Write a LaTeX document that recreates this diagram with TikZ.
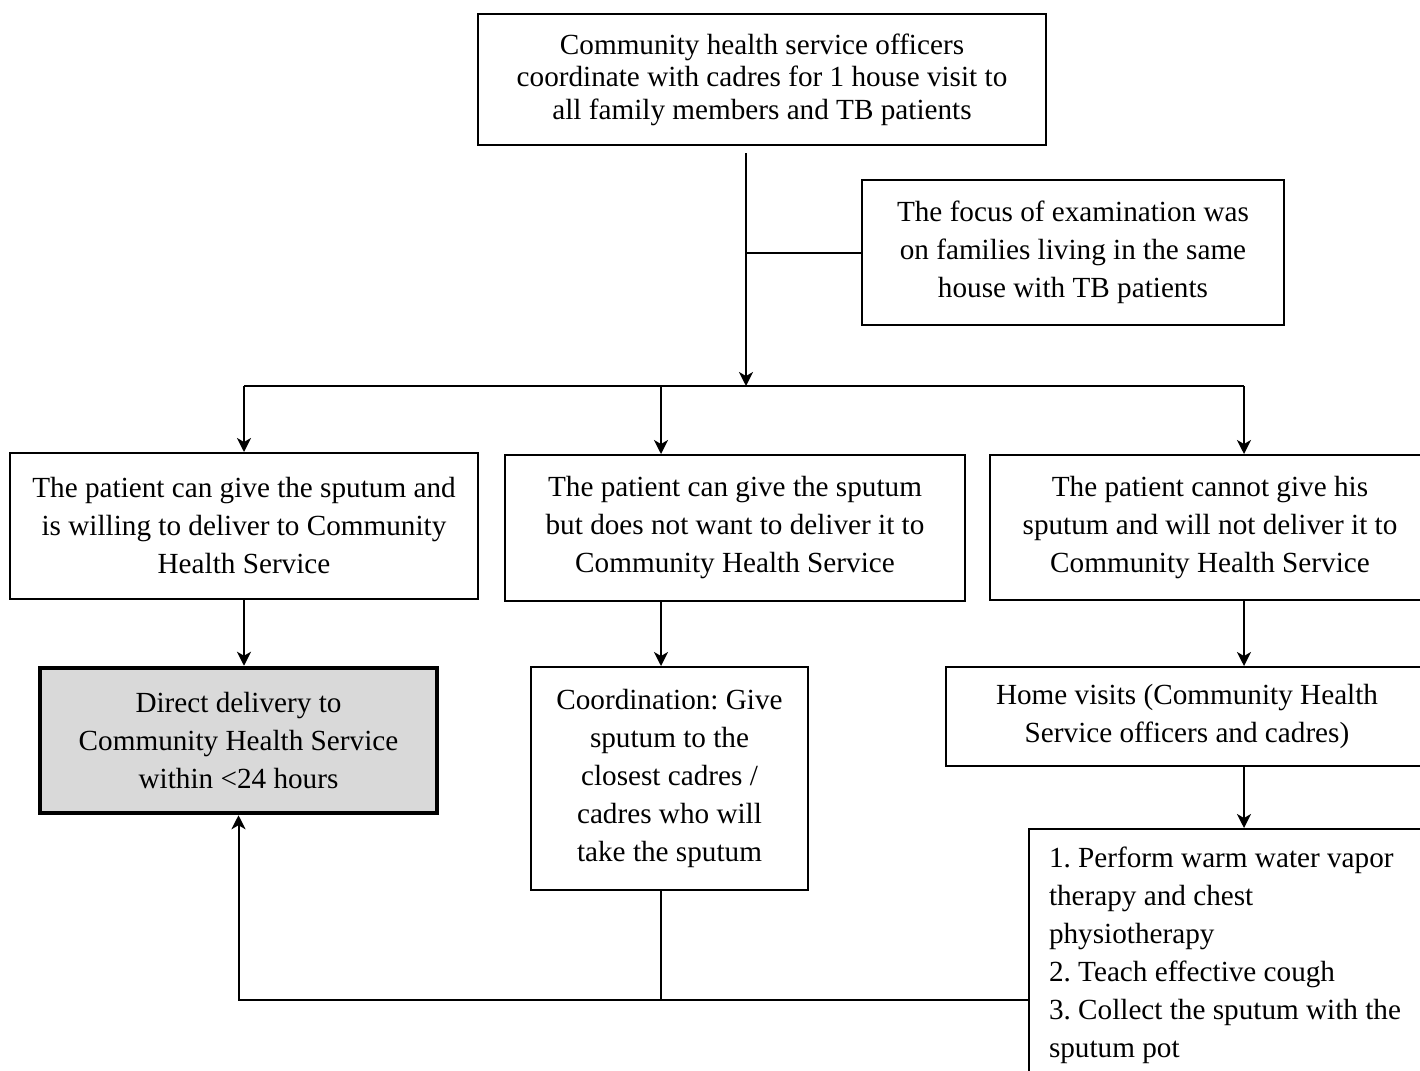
\documentclass[tikz,border=0pt]{standalone}
\usepackage{fontspec}
\setmainfont{Liberation Serif}
\usepackage{tikz}
\usetikzlibrary{arrows.meta, calc}
\definecolor{boxgray}{HTML}{D9D9D9}
\def\px{0.5pt}

\begin{document}
\begin{tikzpicture}[x=\px, y=-\px,
    box/.style={draw, line width=2*\px, align=center, inner sep=0pt,
        font=\fontsize{14.6}{19}\selectfont\frenchspacing},
    line/.style={line width=2*\px},
    arr/.style={line width=2*\px, -{Stealth[length=14*\px, width=14*\px, inset=4*\px]}}]

    \useasboundingbox (0,0) rectangle (1420,1071);
    \clip (0,0) rectangle (1420,1071);

    % top row
    \node[box, font=\fontsize{14.6}{16.2}\selectfont, minimum width=568*\px, minimum height=131*\px] (top) at (762,79.5)
        {Community health service officers\\coordinate with cadres for 1 house visit to\\all family members and TB patients};
    \node[box, minimum width=422*\px, minimum height=145*\px] (focus) at (1073,252.5)
        {The focus of examination was\\on families living in the same\\house with TB patients};

    % patient cases
    \node[box, minimum width=468*\px, minimum height=146*\px] (pA) at (244,526)
        {The patient can give the sputum and\\is willing to deliver to Community\\Health Service};
    \node[box, minimum width=460*\px, minimum height=146*\px] (pB) at (735,528)
        {The patient can give the sputum\\but does not want to deliver it to\\Community Health Service};
    \node[box, minimum width=440*\px, minimum height=145*\px] (pC) at (1210,527.5)
        {The patient cannot give his\\sputum and will not deliver it to\\Community Health Service};

    % actions
    \node[box, fill=boxgray, line width=4.5*\px, minimum width=397*\px, minimum height=145*\px] (deliv) at (238.5,740.5)
        {Direct delivery to\\Community Health Service\\within <24 hours};
    \node[box, minimum width=277*\px, minimum height=223*\px] (coord) at (669.5,778.5)
        {Coordination: Give\\sputum to the\\closest cadres /\\cadres who will\\take the sputum};
    \node[box, minimum width=482*\px, minimum height=99*\px] (home) at (1187,716.5)
        {Home visits (Community Health\\Service officers and cadres)};
    \node[box, align=flush left, anchor=north west, text width=372*\px, inner xsep=20*\px, inner ysep=18*\px] (steps) at (1028,828)
        {1. Perform warm water vapor\\therapy and chest\\physiotherapy\\2. Teach effective cough\\3. Collect the sputum with the\\sputum pot};

    % branch points
    \coordinate (t1) at (746,153);
    \coordinate (jA) at (244,386);
    \coordinate (jB) at (661,386);
    \coordinate (jC) at (1244,386);
    \coordinate (b) at (661,1000);

    \draw[line] (focus.west) -- (focus.west -| t1);
    \draw[arr] (t1) -- (t1 |- jA);
    \draw[line] (jA) -- (jC);
    \draw[arr] (jA) -- (jA |- pA.north);
    \draw[arr] (jB) -- (jB |- pB.north);
    \draw[arr] (jC) -- (jC |- pC.north);

    \draw[arr] (pA.south -| jA) -- (jA |- deliv.north);
    \draw[arr] (pB.south -| jB) -- (jB |- coord.north);
    \draw[arr] (pC.south -| jC) -- (jC |- home.north);
    \draw[arr] (home.south -| jC) -- (jC |- steps.north);

    % back to direct delivery
    \draw[line] (coord.south -| jB) -- (b);
    \draw[arr] (steps.west |- b) -| (deliv.south);
\end{tikzpicture}
\end{document}
